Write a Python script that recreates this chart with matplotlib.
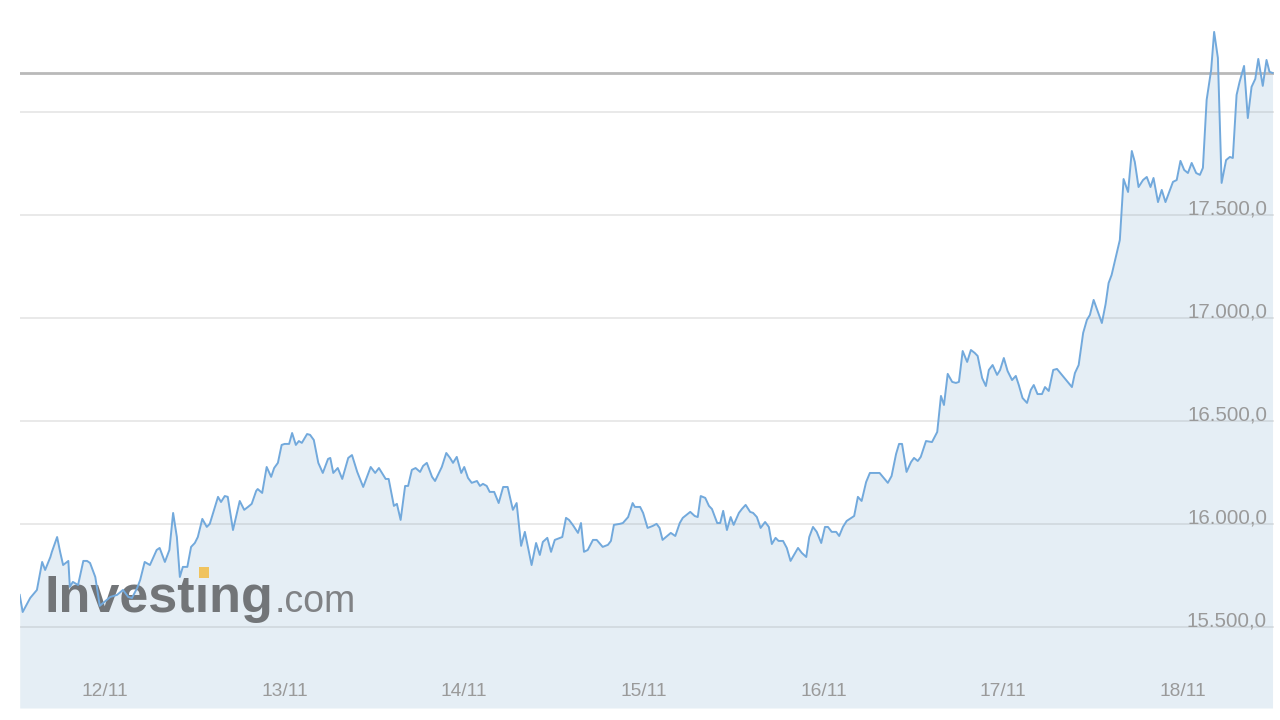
import matplotlib.pyplot as plt
from matplotlib.patches import Rectangle
from matplotlib.ticker import FuncFormatter

# hours from 12/11 00:00, price
times = [
    -11.4, -11.0, -10.0, -9.1, -8.4, -8.0, -7.3, -7.1, -6.4, -6.0,
    -5.6, -4.9, -4.7, -4.3, -3.6, -2.9, -2.4, -2.0, -1.3, -0.7,
    0.7, 1.6, 2.4, 3.1, 3.6, 4.3, 4.7, 5.3, 6.0, 6.9,
    7.3, 8.0, 8.6, 9.1, 9.6, 10.0, 10.4, 11.0, 11.5, 12.0,
    12.4, 13.0, 13.6, 14.0, 15.1, 15.5, 16.0, 16.4, 17.1, 18.0,
    18.6, 19.1, 19.6, 20.2, 20.4, 21.0, 21.6, 22.2, 22.6, 23.1,
    23.6, 24.0, 24.6, 25.0, 25.5, 25.9, 26.3, 27.0, 27.4, 27.9,
    28.5, 29.1, 29.8, 30.1, 30.5, 31.1, 31.7, 32.5, 33.0, 33.7,
    34.5, 35.5, 36.1, 36.6, 37.5, 37.9, 38.6, 39.0, 39.5, 40.1,
    40.5, 41.0, 41.5, 42.1, 42.5, 43.0, 43.7, 44.1, 45.0, 45.6,
    46.1, 46.5, 47.0, 47.6, 48.0, 48.5, 49.0, 49.7, 50.1, 50.5,
    51.0, 51.4, 52.0, 52.6, 53.2, 53.8, 54.5, 55.0, 55.6, 56.1,
    57.0, 57.6, 58.1, 58.5, 59.1, 59.6, 60.1, 60.8, 61.1, 61.6,
    62.0, 62.5, 63.2, 63.6, 64.0, 64.5, 65.2, 65.7, 66.5, 67.2,
    67.6, 68.0, 68.8, 69.2, 69.9, 70.5, 70.8, 71.5, 71.9, 72.5,
    73.2, 73.7, 74.1, 74.5, 75.6, 76.2, 76.8, 77.2, 78.2, 78.8,
    79.2, 79.6, 80.2, 80.7, 81.1, 81.8, 82.2, 82.6, 83.1, 83.6,
    84.0, 84.7, 85.1, 85.6, 86.2, 86.6, 87.1, 87.6, 88.2, 88.7,
    89.1, 89.6, 90.0, 90.6, 91.1, 91.6, 92.6, 93.1, 93.7, 94.1,
    94.6, 95.1, 95.7, 96.2, 96.6, 97.1, 97.7, 98.1, 98.6, 99.1,
    100.1, 100.6, 101.1, 101.7, 102.2, 102.9, 103.5, 104.6, 105.1, 105.7,
    106.1, 106.5, 107.1, 107.7, 108.1, 108.6, 109.0, 109.7, 110.5, 111.2,
    111.7, 112.1, 112.6, 113.2, 113.7, 114.1, 114.6, 115.2, 115.7, 116.2,
    116.6, 117.2, 117.7, 118.1, 118.6, 119.2, 119.6, 120.1, 120.6, 121.2,
    121.7, 122.1, 122.6, 123.2, 123.7, 124.1, 124.6, 125.2, 125.6, 126.1,
    126.7, 127.2, 129.2, 129.6, 130.1, 130.7, 131.2, 131.6, 132.1, 133.2,
    133.7, 134.1, 134.5, 135.2, 135.6, 136.1, 136.7, 137.2, 137.6, 138.1,
    138.7, 139.2, 139.7, 140.1, 140.7, 141.2, 141.7, 142.7, 143.2, 143.7,
    144.2, 144.7, 145.2, 145.8, 146.3, 146.7, 147.2, 147.8, 148.2, 148.7,
    149.2, 149.8, 150.3, 150.7, 151.2, 151.6, 152.2, 152.7, 153.2, 153.7,
    154.1, 154.7, 155.2, 155.6, 156.0,
]
prices = [
    15655, 15572, 15640, 15679, 15815, 15776, 15839, 15864, 15936, 15864,
    15800, 15820, 15694, 15718, 15703, 15820, 15820, 15810, 15742, 15602,
    15645, 15655, 15679, 15645, 15640, 15689, 15728, 15815, 15800, 15873,
    15883, 15815, 15873, 16053, 15936, 15742, 15791, 15791, 15888, 15907,
    15936, 16024, 15985, 16000, 16131, 16106, 16135, 16131, 15970, 16111,
    16068, 16082, 16097, 16160, 16169, 16150, 16276, 16228, 16271, 16296,
    16383, 16388, 16388, 16441, 16383, 16402, 16393, 16436, 16432, 16407,
    16296, 16247, 16315, 16320, 16247, 16271, 16218, 16320, 16334, 16252,
    16179, 16276, 16247, 16271, 16218, 16218, 16087, 16097, 16019, 16184,
    16184, 16262, 16271, 16252, 16281, 16296, 16228, 16208, 16276, 16344,
    16320, 16296, 16325, 16247, 16276, 16223, 16199, 16208, 16184, 16194,
    16184, 16155, 16155, 16101, 16179, 16179, 16068, 16101, 15893, 15961,
    15800, 15907, 15849, 15912, 15932, 15864, 15922, 15932, 15936, 16029,
    16019, 15995, 15956, 16004, 15864, 15873, 15922, 15922, 15888, 15898,
    15917, 15995, 16000, 16004, 16033, 16101, 16082, 16082, 16053, 15980,
    15990, 16000, 15980, 15922, 15956, 15941, 16004, 16029, 16058, 16038,
    16033, 16135, 16126, 16087, 16072, 16004, 16004, 16063, 15970, 16033,
    15995, 16053, 16072, 16092, 16058, 16053, 16033, 15980, 16009, 15985,
    15902, 15932, 15917, 15917, 15883, 15820, 15883, 15859, 15839, 15936,
    15985, 15961, 15907, 15985, 15985, 15961, 15961, 15941, 15985, 16014,
    16038, 16131, 16111, 16203, 16247, 16247, 16247, 16199, 16232, 16339,
    16388, 16388, 16252, 16300, 16320, 16305, 16325, 16402, 16397, 16446,
    16621, 16577, 16728, 16689, 16684, 16689, 16839, 16786, 16844, 16830,
    16815, 16708, 16669, 16747, 16771, 16723, 16747, 16805, 16742, 16698,
    16718, 16674, 16611, 16587, 16650, 16674, 16630, 16630, 16664, 16645,
    16747, 16752, 16664, 16732, 16771, 16927, 16990, 17014, 17087, 16975,
    17067, 17169, 17208, 17315, 17378, 17674, 17611, 17810, 17757, 17635,
    17669, 17684, 17635, 17679, 17562, 17621, 17562, 17660, 17669, 17762,
    17718, 17703, 17752, 17703, 17694, 17728, 18058, 18203, 18388, 18262,
    17655, 17766, 17781, 17776, 18082, 18145, 18223, 17970, 18121, 18160,
    18257, 18126, 18252, 18194, 18189,
]
day_hours = [0, 24, 48, 72, 96, 120, 144]
day_labels = ["12/11", "13/11", "14/11", "15/11", "16/11", "17/11", "18/11"]
price_ticks = [15500, 16000, 16500, 17000, 17500, 18000]
labelled_ticks = [15500, 16000, 16500, 17000, 17500]

y_min, y_max = 15106, 18543
x_min, x_max = -11.36, 156.2

plt.rcParams["font.family"] = ["Liberation Sans", "DejaVu Sans"]

fig = plt.figure(figsize=(12.8, 7.2), dpi=100)
ax = fig.add_axes([20 / 1280, 12 / 720, 1254 / 1280, 708 / 720])

ax.fill_between(times, prices, y_min, color="#e5eef5", lw=0, zorder=1)
ax.plot(times, prices, color="#72a9dc", lw=1.4, zorder=4)
ax.axhline(prices[-1], color="#b9b9b9", lw=2, zorder=3)

ax.set_xlim(x_min, x_max)
ax.set_ylim(y_min, y_max)

for side in ["top", "bottom", "left", "right"]:
    ax.spines[side].set_visible(False)

ax.set_yticks(price_ticks)
ax.yaxis.set_major_formatter(FuncFormatter(
    lambda v, p: (f"{v:,.1f}".replace(",", " ").replace(".", ",").replace(" ", "."))
    if v in labelled_ticks else ""))
ax.yaxis.tick_right()
ax.tick_params(axis="y", length=0, pad=-5, labelsize=14.8, labelcolor="#9a9a9a")
for lab in ax.get_yticklabels():
    lab.set_horizontalalignment("right")
    lab.set_verticalalignment("baseline")

ax.set_xticks(day_hours)
ax.set_xticklabels(day_labels)
ax.tick_params(axis="x", length=0, pad=-18, labelsize=13.8, labelcolor="#9a9a9a")

ax.grid(axis="y", color="#808080", alpha=0.2, lw=1.2)
ax.set_axisbelow(False)
ax.grid(axis="x", visible=False)

# watermark logo (dotless i, the dot is the yellow square)
logo_x, logo_y = 0.0199, 0.1356
logo_size = 37.5
word = ax.text(logo_x, logo_y, "Invest\u0131ng", transform=ax.transAxes,
               fontsize=logo_size, fontweight="bold", color="#727578",
               va="baseline", ha="left", zorder=2)
fig.canvas.draw()
renderer = fig.canvas.get_renderer()
inv = ax.transAxes.inverted()
probe = ax.text(logo_x, logo_y, "Invest", transform=ax.transAxes,
                fontsize=logo_size, fontweight="bold", va="baseline", ha="left")
probe_i = ax.text(logo_x, logo_y, "Invest\u0131", transform=ax.transAxes,
                  fontsize=logo_size, fontweight="bold", va="baseline", ha="left")
x0 = inv.transform(probe.get_window_extent(renderer))[1][0]
x1 = inv.transform(probe_i.get_window_extent(renderer))[1][0]
word_right = inv.transform(word.get_window_extent(renderer))[1][0]
probe.remove()
probe_i.remove()
dot_w = 0.008
ax.add_patch(Rectangle(((x0 + x1) / 2 - dot_w / 2 + 0.001, 0.1836), dot_w, 0.0155,
                       transform=ax.transAxes, color="#f0c35e", lw=0, zorder=2.1))
ax.text(word_right + 0.001, logo_y, ".com", transform=ax.transAxes, fontsize=27,
        color="#808285", va="baseline", ha="left", zorder=2)

plt.savefig("out.png", dpi=100)
